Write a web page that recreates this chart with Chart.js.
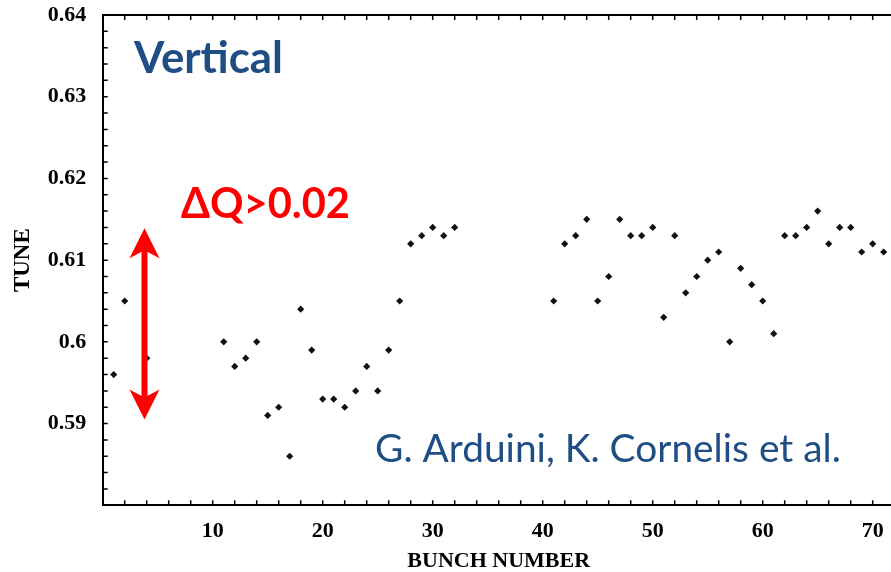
<!DOCTYPE html>
<html>
<head>
<meta charset="utf-8">
<script src="https://cdn.jsdelivr.net/npm/chart.js@4.4.1/dist/chart.umd.min.js"></script>
<style>
  html, body { margin: 0; padding: 0; background: #fff; overflow: hidden; }
  #wrap { width: 905px; height: 572px; }
</style>
</head>
<body>
<div id="wrap"><canvas id="tuneChart" width="905" height="572"></canvas></div>
<script>
// Vertical tune per bunch
const bunches = [1, 2, 4, 11, 12, 13, 14, 15, 16, 17, 18, 19, 20, 21, 22, 23, 24, 25, 26, 27, 28, 29, 30, 31, 32,
                 41, 42, 43, 44, 45, 46, 47, 48, 49, 50, 51, 52, 53, 54, 55, 56, 57, 58, 59, 60, 61,
                 62, 63, 64, 65, 66, 67, 68, 69, 70, 71];
const tunes = [0.596, 0.605, 0.598, 0.600, 0.597, 0.598, 0.600, 0.591, 0.592, 0.586, 0.604, 0.599, 0.593, 0.593,
               0.592, 0.594, 0.597, 0.594, 0.599, 0.605, 0.612, 0.613, 0.614, 0.613, 0.614,
               0.605, 0.612, 0.613, 0.615, 0.605, 0.608, 0.615, 0.613, 0.613, 0.614, 0.603, 0.613, 0.606,
               0.608, 0.610, 0.611, 0.600, 0.609, 0.607, 0.605, 0.601,
               0.613, 0.613, 0.614, 0.616, 0.612, 0.614, 0.614, 0.611, 0.612, 0.611];

// axis ranges and ticks
const xMin = 0, xMax = 72, xMinorStep = 2;
const xTickLabels = [10, 20, 30, 40, 50, 60, 70];
const yMin = 0.58, yMax = 0.64, yMinorStep = 0.002;
const yTickLabels = [0.59, 0.6, 0.61, 0.62, 0.63, 0.64];

// the red double arrow (bunch, tune)
const arrowBunch = 3.8, arrowTop = 0.6139, arrowBottom = 0.5905;

const serif = '"Liberation Serif", "Times New Roman", serif';
const sans = 'Lato, "Open Sans", sans-serif';
const blue = '#1F4E85';

const notes = [
    { text: 'Vertical', weight: 'bold', color: blue, x: 134, y: 73, width: 149 },
    { text: 'ΔQ>0.02', weight: 'bold', color: '#FF0000', x: 181, y: 218, width: 169 },
    { text: 'G. Arduini, K. Cornelis et al.', weight: 'normal', color: blue, x: 375, y: 462, width: 466 }
];

function fitSize(ctx, text, weight, width) {
    ctx.font = `${weight} 100px ${sans}`;
    return 100 * width / ctx.measureText(text).width;
}

function arrowHead(ctx, x, tipY, dir) {
    // dir: -1 points up, +1 points down
    ctx.beginPath();
    ctx.moveTo(x, tipY);
    ctx.lineTo(x + 15, tipY - dir * 30);
    ctx.lineTo(x, tipY - dir * 22);
    ctx.lineTo(x - 15, tipY - dir * 30);
    ctx.closePath();
    ctx.fill();
}

const framePlugin = {
    id: 'frame',
    afterDraw(chart) {
        const { ctx, chartArea: area, scales: { x, y } } = chart;
        const tickLen = 5;
        ctx.save();

        // top border
        ctx.strokeStyle = '#000';
        ctx.lineWidth = 2;
        ctx.beginPath();
        ctx.moveTo(area.left, area.top);
        ctx.lineTo(area.right, area.top);
        ctx.stroke();

        // inward tick marks
        ctx.lineWidth = 1.5;
        ctx.beginPath();
        for (let i = 0; xMin + i * xMinorStep <= xMax + 1e-9; i++) {
            const px = x.getPixelForValue(xMin + i * xMinorStep);
            ctx.moveTo(px, area.bottom);
            ctx.lineTo(px, area.bottom - tickLen);
            ctx.moveTo(px, area.top);
            ctx.lineTo(px, area.top + tickLen);
        }
        for (let i = 0; yMin + i * yMinorStep <= yMax + 1e-9; i++) {
            const py = y.getPixelForValue(yMin + i * yMinorStep);
            ctx.moveTo(area.left, py);
            ctx.lineTo(area.left + tickLen, py);
        }
        ctx.stroke();

        // red double arrow
        const ax = x.getPixelForValue(arrowBunch);
        const top = y.getPixelForValue(arrowTop);
        const bottom = y.getPixelForValue(arrowBottom);
        ctx.fillStyle = '#FF0000';
        ctx.fillRect(ax - 3, top + 20, 6, bottom - top - 40);
        arrowHead(ctx, ax, top, -1);
        arrowHead(ctx, ax, bottom, 1);

        // annotations
        ctx.textAlign = 'left';
        ctx.textBaseline = 'alphabetic';
        notes.forEach(n => {
            const size = fitSize(ctx, n.text, n.weight, n.width);
            ctx.font = `${n.weight} ${size}px ${sans}`;
            ctx.fillStyle = n.color;
            ctx.fillText(n.text, n.x, n.y);
        });
        ctx.restore();
    }
};

const points = bunches.map((b, i) => ({ x: b, y: tunes[i] }));

// keep the plot frame where the reference has it
function noPadding(s) {
    s.paddingTop = 0;
    s.paddingBottom = 0;
    s.paddingLeft = 0;
    s.paddingRight = 0;
}

new Chart(document.getElementById('tuneChart'), {
    type: 'scatter',
    data: {
        datasets: [{
            data: points,
            pointStyle: 'rectRot',
            pointRadius: 3.6,
            backgroundColor: '#111',
            borderWidth: 0
        }]
    },
    options: {
        responsive: false,
        animation: false,
        events: [],
        devicePixelRatio: 1,
        layout: { padding: { top: 15, right: 10.3, left: 0, bottom: 0 } },
        plugins: { legend: { display: false }, tooltip: { enabled: false } },
        scales: {
            x: {
                type: 'linear',
                min: xMin,
                max: xMax,
                afterBuildTicks: s => { s.ticks = xTickLabels.map(v => ({ value: v })); },
                afterFit: s => { s.height = 66.7; noPadding(s); },
                grid: { display: false, drawTicks: false },
                border: { display: true, color: '#000', width: 2 },
                ticks: {
                    autoSkip: false,
                    maxRotation: 0,
                    padding: 13,
                    color: '#000',
                    font: { family: serif, size: 22, weight: 'bold' },
                    callback: v => String(v)
                },
                title: {
                    display: true,
                    text: 'BUNCH NUMBER',
                    color: '#000',
                    padding: 0,
                    font: { family: serif, size: 22, weight: 'bold', lineHeight: 1 }
                }
            },
            y: {
                min: yMin,
                max: yMax,
                afterBuildTicks: s => { s.ticks = yTickLabels.map(v => ({ value: v })); },
                afterFit: s => { s.width = 102.7; noPadding(s); },
                grid: { display: false, drawTicks: false },
                border: { display: true, color: '#000', width: 2 },
                ticks: {
                    autoSkip: false,
                    padding: 16.5,
                    color: '#000',
                    font: { family: serif, size: 22, weight: 'bold' },
                    callback: v => String(v)
                },
                title: {
                    display: true,
                    text: 'TUNE',
                    color: '#000',
                    padding: { top: 12, bottom: 0 },
                    font: { family: serif, size: 23, weight: 'bold', lineHeight: 1 }
                }
            }
        }
    },
    plugins: [framePlugin]
});
</script>
</body>
</html>
